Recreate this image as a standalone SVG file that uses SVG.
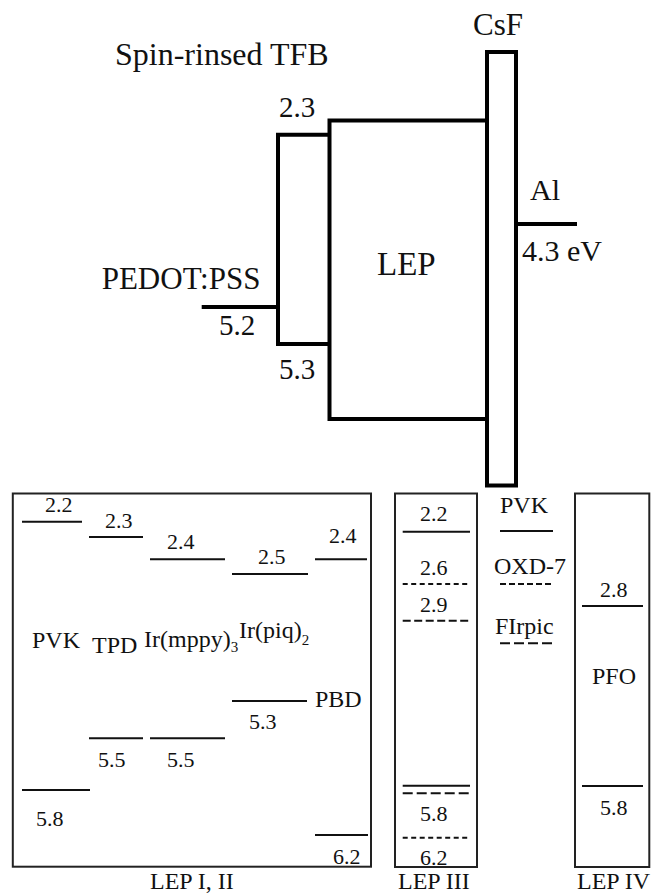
<svg xmlns="http://www.w3.org/2000/svg" width="653" height="893" viewBox="0 0 653 893" font-family="'Liberation Serif', 'DejaVu Serif', serif">
<style>
text{font-family:'Liberation Serif','DejaVu Serif',serif;fill:#111}
.lbl{font-size:31px}
.num{font-size:29px}
.bl{font-size:24px}
.bn{font-size:22px}
.sub{font-size:15px}
.thick{fill:none;stroke:#000;stroke-width:4}
.box{fill:none;stroke:#222;stroke-width:2}
.lv{stroke:#111;stroke-width:2;fill:none}
.d1{stroke:#111;stroke-width:2;stroke-dasharray:5 3.5}
.d2{stroke:#111;stroke-width:2;stroke-dasharray:8 3.5}
.d3{stroke:#111;stroke-width:2;stroke-dasharray:6 3}
.d4{stroke:#111;stroke-width:2;stroke-dasharray:10 4}
</style>
<rect width="653" height="893" fill="#fff"/>
<g id="connectors"/>
<g id="tfb">
<path class="thick" d="M329.5,134.7 H278 V344 H329.5"/>
<text class="lbl" x="115" y="65" style="font-size:32px">Spin-rinsed TFB</text>
<text class="num" x="279" y="117">2.3</text>
<text class="num" x="279" y="379">5.3</text>
</g>
<g id="lep">
<path class="thick" d="M487,120.5 H329.5 V419 H487"/>
<text class="lbl" x="377" y="275" style="font-size:33px">LEP</text>
</g>
<g id="csf">
<rect class="thick" x="487" y="52" width="29" height="433.5"/>
<text class="lbl" x="473" y="35">CsF</text>
</g>
<g id="al">
<line class="thick" x1="516" y1="224" x2="577" y2="224"/>
<text class="lbl" x="530" y="200" style="font-size:30px">Al</text>
<text class="lbl" x="522" y="260.7" style="font-size:30px">4.3 eV</text>
</g>
<g id="pedot">
<line class="thick" x1="201.7" y1="307" x2="278" y2="307"/>
<text class="lbl" x="101.7" y="289.3">PEDOT:PSS</text>
<text class="num" x="219" y="335">5.2</text>
</g>
<g id="lep12">
<rect class="box" x="12.8" y="493.5" width="358.2" height="373.2"/>
<line class="lv" x1="22" y1="521.7" x2="82" y2="521.7"/>
<text class="bn" x="45" y="512">2.2</text>
<line class="lv" x1="89" y1="537" x2="143" y2="537"/>
<text class="bn" x="105" y="528">2.3</text>
<line class="lv" x1="150" y1="559.3" x2="225" y2="559.3"/>
<text class="bn" x="167" y="549">2.4</text>
<line class="lv" x1="232" y1="574" x2="308" y2="574"/>
<text class="bn" x="258" y="564">2.5</text>
<line class="lv" x1="315" y1="559.3" x2="367" y2="559.3"/>
<text class="bn" x="329" y="543">2.4</text>
<text class="bl" x="32" y="648">PVK</text>
<text class="bl" x="92" y="653">TPD</text>
<text class="bl" x="144" y="647">Ir(mppy)<tspan class="sub" dy="5">3</tspan></text>
<text class="bl" x="239" y="638">Ir(piq)<tspan class="sub" dy="7">2</tspan></text>
<line class="lv" x1="232" y1="701" x2="307" y2="701"/>
<text class="bn" x="249" y="729">5.3</text>
<text class="bl" x="315" y="707">PBD</text>
<line class="lv" x1="89" y1="738.3" x2="143" y2="738.3"/>
<line class="lv" x1="150" y1="738.3" x2="225" y2="738.3"/>
<text class="bn" x="98" y="767">5.5</text>
<text class="bn" x="167" y="767">5.5</text>
<line class="lv" x1="22" y1="790" x2="90" y2="790"/>
<text class="bn" x="36" y="826">5.8</text>
<line class="lv" x1="315" y1="835" x2="368" y2="835"/>
<text class="bn" x="333" y="864">6.2</text>
<text class="bl" x="150" y="889">LEP I, II</text>
</g>
<g id="lep3">
<rect class="box" x="395" y="493.5" width="82" height="373.5"/>
<line class="lv" x1="402.7" y1="531.7" x2="470" y2="531.7"/>
<text class="bn" x="420" y="521">2.2</text>
<text class="bn" x="420" y="575">2.6</text>
<line class="d1" x1="402.7" y1="584" x2="470" y2="584"/>
<text class="bn" x="420" y="612">2.9</text>
<line class="d2" x1="402.7" y1="620.7" x2="470" y2="620.7"/>
<line class="lv" x1="402.7" y1="785.7" x2="470" y2="785.7"/>
<line class="d4" x1="402.7" y1="793.3" x2="470" y2="793.3"/>
<text class="bn" x="420" y="821">5.8</text>
<line class="d1" x1="402.7" y1="837.7" x2="470" y2="837.7"/>
<text class="bn" x="420" y="865">6.2</text>
<text class="bl" x="398" y="889">LEP III</text>
</g>
<g id="legend3">
<text class="bl" x="500" y="513">PVK</text>
<line class="lv" x1="500" y1="531" x2="553" y2="531"/>
<text class="bl" x="494" y="573.5">OXD-7</text>
<line class="d3" x1="500" y1="584" x2="553" y2="584"/>
<text class="bl" x="495" y="634">FIrpic</text>
<line class="d4" x1="500" y1="643.3" x2="553" y2="643.3"/>
</g>
<g id="lep4">
<rect class="box" x="575" y="493.5" width="74.3" height="373.5"/>
<line class="lv" x1="582" y1="606" x2="643" y2="606"/>
<text class="bn" x="600" y="597">2.8</text>
<text class="bl" x="592" y="684">PFO</text>
<line class="lv" x1="582" y1="786" x2="643" y2="786"/>
<text class="bn" x="600" y="815">5.8</text>
<text class="bl" x="577" y="889">LEP IV</text>
</g>
</svg>
